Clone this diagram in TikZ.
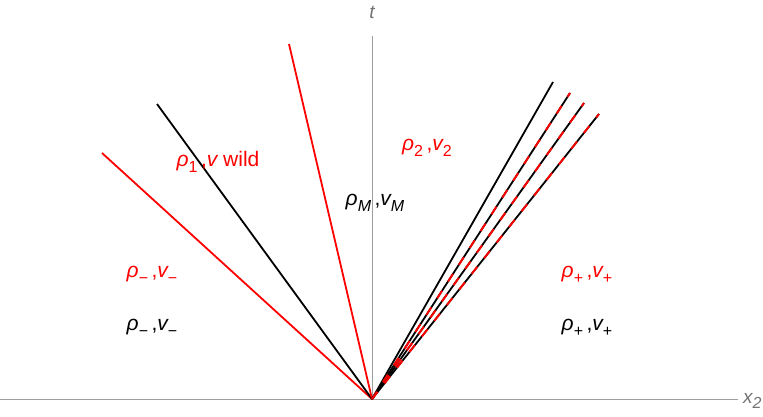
\documentclass[tikz,border=0pt]{standalone}
\usepackage{fontspec}
\setmainfont{Liberation Sans}
\newcommand{\sbs}[1]{\raisebox{-0.28em}{\fontsize{16}{17}\selectfont #1}}
\begin{document}
\begin{tikzpicture}[x=1pt,y=-1pt,
  axis/.style={draw=black!38,line width=0.9pt},
  ray/.style={line width=1.8pt},
  redray/.style={ray,draw=red},
  blackray/.style={ray,draw=black},
  dashray/.style={line width=1.9pt,draw=red,dash pattern=on 9pt off 11pt},
  lab/.style={font=\fontsize{21}{23}\selectfont,inner sep=0pt,anchor=center},
  redlab/.style={lab,text=red},
  axlab/.style={font=\fontsize{19}{21}\selectfont\itshape,text=black!55,inner sep=0pt}]
\useasboundingbox (0,0) rectangle (763,416);
\coordinate (O) at (372,399);
\coordinate (xl) at (0,399);
\coordinate (xr) at (738,399);
\coordinate (tt) at (372,36);
\draw[axis] (xl) -- (xr);
\draw[axis] (O) -- (tt);
\node[axlab,anchor=west] (x2) at (743,401) {x\sbs{2}};
\node[axlab] (tl) at (372,12) {t};
\coordinate (r1) at (102,153);
\coordinate (b1) at (157,104);
\coordinate (r2) at (289,44);
\coordinate (b2) at (553,82);
\coordinate (d1) at (570,93);
\coordinate (d2) at (584,103);
\coordinate (d3) at (599,114);
\draw[redray] (O) -- (r1);
\draw[blackray] (O) -- (b1);
\draw[redray] (O) -- (r2);
\draw[blackray] (O) -- (b2);
\foreach \d in {d1,d2,d3}{
  \draw[blackray] (O) -- (\d);
  \draw[dashray] (O) -- (\d);
}
\node[redlab] (n1) at (218,162) {\itshape ρ\sbs{\upshape 1}\upshape\,,\itshape v\upshape\ wild};
\node[lab] (nM) at (375,203) {\itshape ρ\sbs{M}\upshape\,,\itshape v\sbs{M}};
\node[redlab] (n2) at (427,148) {\itshape ρ\sbs{\upshape 2}\upshape\,,\itshape v\sbs{\upshape 2}};
\node[redlab] (nmr) at (152,275) {\itshape ρ\sbs{\upshape −}\upshape\,,\itshape v\sbs{\upshape −}};
\node[lab] (nmb) at (152,328) {\itshape ρ\sbs{\upshape −}\upshape\,,\itshape v\sbs{\upshape −}};
\node[redlab] (npr) at (587,275) {\itshape ρ\sbs{\upshape +}\upshape\,,\itshape v\sbs{\upshape +}};
\node[lab] (npb) at (587,328) {\itshape ρ\sbs{\upshape +}\upshape\,,\itshape v\sbs{\upshape +}};
\end{tikzpicture}
\end{document}
